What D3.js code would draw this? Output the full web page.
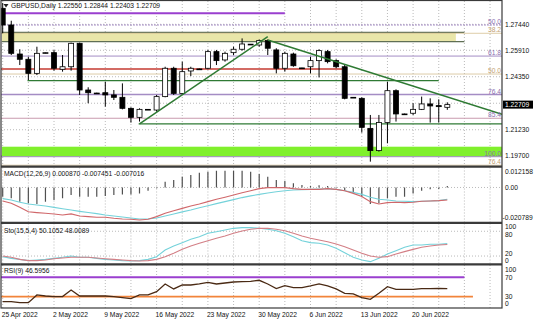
<!DOCTYPE html>
<html>
<head>
<meta charset="utf-8">
<script src="https://cdn.jsdelivr.net/npm/d3@7"></script>
<style>
  body { margin: 0; background: #fff; }
  svg { display: block; font-family: "Liberation Sans", Arial, sans-serif; }
</style>
</head>
<body>
<svg id="vis-svg" width="536" height="321"></svg>
<script>
// Daily bars, broker feed has a short Sunday bar each week
const dates = [
    "2022-04-25", "2022-04-26", "2022-04-27", "2022-04-28", "2022-04-29",
    "2022-05-01", "2022-05-02", "2022-05-03", "2022-05-04", "2022-05-05", "2022-05-06",
    "2022-05-08", "2022-05-09", "2022-05-10", "2022-05-11", "2022-05-12", "2022-05-13",
    "2022-05-15", "2022-05-16", "2022-05-17", "2022-05-18", "2022-05-19", "2022-05-20",
    "2022-05-22", "2022-05-23", "2022-05-24", "2022-05-25", "2022-05-26", "2022-05-27",
    "2022-05-29", "2022-05-30", "2022-05-31", "2022-06-01", "2022-06-02", "2022-06-03",
    "2022-06-05", "2022-06-06", "2022-06-07", "2022-06-08", "2022-06-09", "2022-06-10",
    "2022-06-12", "2022-06-13", "2022-06-14", "2022-06-15", "2022-06-16", "2022-06-17",
    "2022-06-19", "2022-06-20", "2022-06-21", "2022-06-22", "2022-06-23", "2022-06-24"
];
const open = [1.2838, 1.2740, 1.2569, 1.2538, 1.2455, 1.2575, 1.2577, 1.2479, 1.2494, 1.2632, 1.2357,
    1.2339, 1.2341, 1.2328, 1.2314, 1.2249, 1.2196, 1.2241, 1.2239, 1.2318, 1.2485, 1.2337, 1.2469,
    1.2481, 1.2485, 1.2583, 1.2534, 1.2577, 1.2597, 1.2626, 1.2622, 1.2648, 1.2593, 1.2485, 1.2569,
    1.2487, 1.2494, 1.2530, 1.2583, 1.2530, 1.2494, 1.2312, 1.2308, 1.2131, 1.2000, 1.2165, 1.2353,
    1.2216, 1.2220, 1.2243, 1.2275, 1.2265, 1.22550];
const high = [1.2870, 1.2765, 1.2597, 1.2553, 1.2612, 1.2578, 1.2593, 1.2563, 1.2636, 1.2636, 1.2373,
    1.2341, 1.2406, 1.2357, 1.2396, 1.2255, 1.2249, 1.2245, 1.2328, 1.2494, 1.2494, 1.2524, 1.2494,
    1.2483, 1.2593, 1.2593, 1.2583, 1.2612, 1.2661, 1.2628, 1.2655, 1.2655, 1.2603, 1.2583, 1.2577,
    1.2488, 1.2553, 1.2597, 1.2593, 1.2538, 1.2504, 1.2315, 1.2314, 1.2210, 1.2210, 1.2406, 1.2361,
    1.2218, 1.2279, 1.2318, 1.2308, 1.2302, 1.22844];
const low = [1.2691, 1.2563, 1.2504, 1.2416, 1.2445, 1.2572, 1.2471, 1.2465, 1.2471, 1.2328, 1.2279,
    1.2335, 1.2259, 1.2298, 1.2243, 1.2165, 1.2171, 1.2240, 1.2229, 1.2314, 1.2328, 1.2331, 1.2439,
    1.2478, 1.2479, 1.2504, 1.2524, 1.2563, 1.2589, 1.2624, 1.2612, 1.2563, 1.2455, 1.2465, 1.2494,
    1.2484, 1.2455, 1.2431, 1.2514, 1.2485, 1.2302, 1.2310, 1.2106, 1.1935, 1.1994, 1.2043, 1.2171,
    1.2214, 1.2210, 1.2239, 1.2165, 1.2165, 1.22403];
const close = [1.2740, 1.2573, 1.2538, 1.2455, 1.2573, 1.2577, 1.2485, 1.2494, 1.2632, 1.2357, 1.2341,
    1.2337, 1.2328, 1.2314, 1.2249, 1.2196, 1.2243, 1.2243, 1.2318, 1.2485, 1.2337, 1.2465, 1.2485,
    1.2479, 1.2583, 1.2530, 1.2573, 1.2597, 1.2628, 1.2627, 1.2648, 1.2603, 1.2485, 1.2573, 1.2500,
    1.2485, 1.2530, 1.2589, 1.2524, 1.2494, 1.2308, 1.2314, 1.2137, 1.2000, 1.2165, 1.2353, 1.2216,
    1.2216, 1.2243, 1.2275, 1.2263, 1.2259, 1.22709];

// MACD(12,26,9)
const macdHist = [-0.0055, -0.0064, -0.0084, -0.0094, -0.0098, -0.0084, -0.0074, -0.0064, -0.0045,
    -0.0055, -0.0055, -0.0055, -0.0050, -0.0045, -0.0041, -0.0041, -0.0035, -0.0019, -0.0005, 0.0034,
    0.0045, 0.0064, 0.0074, 0.0088, 0.0094, 0.0100, 0.0100, 0.0100, 0.0100, 0.0094, 0.0080, 0.0064,
    0.0045, 0.0039, 0.0025, 0.0015, 0.0009, 0.0013, 0.0009, -0.0005, -0.0019, -0.0031, -0.0055,
    -0.0098, -0.0094, -0.0064, -0.0055, -0.0055, -0.0035, -0.0019, -0.0011, -0.0009, 0.00087];
const macdRed = [-0.0080, -0.0094, -0.0118, -0.0144, -0.0149, -0.0153, -0.0157, -0.0163, -0.0157,
    -0.0169, -0.0173, -0.0177, -0.0177, -0.0183, -0.0187, -0.0189, -0.0193, -0.0189, -0.0173, -0.0153,
    -0.0138, -0.0124, -0.0110, -0.0098, -0.0084, -0.0070, -0.0058, -0.0045, -0.0031, -0.0019, -0.0007,
    -0.0001, -0.0001, -0.0001, -0.0007, -0.0011, -0.0011, -0.0011, -0.0007, -0.0011, -0.0019, -0.0035,
    -0.0054, -0.0084, -0.0098, -0.0090, -0.0088, -0.0090, -0.0088, -0.0082, -0.0080, -0.0078, -0.007451];
const macdCyan = [-0.0066, -0.0074, -0.0088, -0.0098, -0.0104, -0.0110, -0.0118, -0.0126, -0.0134,
    -0.0142, -0.0149, -0.0155, -0.0163, -0.0169, -0.0175, -0.0181, -0.0187, -0.0187, -0.0181, -0.0169,
    -0.0157, -0.0145, -0.0134, -0.0120, -0.0108, -0.0096, -0.0084, -0.0072, -0.0060, -0.0050, -0.0041,
    -0.0033, -0.0025, -0.0019, -0.0015, -0.0013, -0.0011, -0.0009, -0.0009, -0.0011, -0.0019, -0.0029,
    -0.0041, -0.0058, -0.0070, -0.0074, -0.0080, -0.0082, -0.0084, -0.0082, -0.0080, -0.0078, -0.007016];

// Stochastic(15,5,4)
const stoMain = [18.5, 14.4, 12.0, 8.8, 10.4, 12.0, 14.4, 16.9, 20.1, 16.9, 16.9, 14.4, 12.0, 10.4,
    8.8, 8.0, 8.8, 12.0, 18.5, 34.6, 44.3, 52.4, 60.5, 66.9, 75.0, 79.0, 83.1, 87.1, 88.7, 88.7, 87.1,
    84.7, 81.4, 75.0, 66.9, 57.2, 52.4, 50.8, 46.7, 38.7, 28.2, 16.9, 10.4, 6.4, 14.4, 24.9, 33.0,
    41.1, 46.7, 46.7, 48.4, 48.4, 50.1052];
const stoSignal = [20.1, 16.9, 12.0, 8.8, 8.8, 10.4, 13.6, 15.3, 16.9, 16.9, 16.9, 15.3, 13.6, 12.0,
    10.4, 8.8, 8.0, 8.8, 12.0, 18.5, 26.6, 36.2, 44.3, 50.8, 57.2, 62.9, 68.5, 75.0, 80.6, 84.7, 87.1,
    87.1, 84.7, 81.4, 75.0, 68.5, 62.9, 58.8, 54.8, 49.2, 42.7, 34.6, 26.6, 20.1, 16.9, 18.5, 24.9,
    30.7, 36.2, 41.1, 44.3, 46.7, 48.0089];

// RSI(9)
const rsi = [19.8, 19.8, 17.7, 17.7, 33.5, 31.4, 30.1, 30.1, 43.8, 31.4, 31.4, 31.4, 31.4, 30.1, 28.0,
    25.9, 33.5, 33.5, 40.4, 56.2, 45.9, 54.1, 54.1, 56.2, 59.6, 56.2, 58.2, 60.3, 61.0, 61.7, 63.8, 56.2,
    46.6, 52.7, 48.6, 48.6, 52.1, 56.2, 52.1, 45.9, 37.0, 35.6, 28.0, 24.6, 37.0, 50.7, 45.2, 45.2, 45.2,
    46.6, 46.6, 47.3, 46.5956];

// Axis ticks and labels
const priceTicks = [1.27440, 1.25910, 1.24350, 1.22790, 1.21230, 1.19700];
const macdTicks = [0.012158, 0, -0.020789];
const macdTickLabels = ["0.012158", "0.00", "-0.020789"];
const stoTicks = [100, 80, 20, 0];
const rsiTicks = [100, 70, 30, 0];
const timeLabelDates = ["2022-04-25", "2022-05-02", "2022-05-09", "2022-05-16", "2022-05-23",
    "2022-05-30", "2022-06-06", "2022-06-13", "2022-06-20"];
const timeLabels = ["25 Apr 2022", "2 May 2022", "9 May 2022", "16 May 2022", "23 May 2022",
    "30 May 2022", "6 Jun 2022", "13 Jun 2022", "20 Jun 2022"];

// Chart objects (price, and bar index anchors)
const hLines = [
    { name: "swingHigh", price: 1.2809, from: -1, to: 33 },
    { name: "resistance", price: 1.2481, from: -1, to: 39.7 },
    { name: "support1", price: 1.2412, from: 2.9, to: 51 },
    { name: "support2", price: 1.2157, from: 15.9, to: 59 }
];
const zones = [
    { name: "supply", top: 1.2697, bottom: 1.2642, from: -0.1, to: 53, edgeTo: 54 },
    { name: "demand", top: 1.2023, bottom: 1.1964, from: -0.1, to: 59, edgeTo: 59 }
];
const trendUp = [[16, 1.2157], [31, 1.2671]];
const trendDown = [[31, 1.2652], [58, 1.2220]];
const fibA = { high: 1.3516, low: 1.1964 };
const fibALevels = [50.0, 61.8, 76.4, 85.4, 100.0];
const fibB = { high: 1.3468, low: 1.1434 };
const fibBLevels = [38.2, 50.0, 76.4];
const rsiLines = [
    { name: "upper", value: 70, to: 54 },
    { name: "lower", value: 30, to: 55 }
];
const lastPrice = 1.22709;
const titleText = "GBPUSD,Daily 1.22550 1.22844 1.22403 1.22709";

// ---- layout and styles ----
const plotL = 1, plotR = 502;
const panels = {
    main: { top: 1, bottom: 166 },
    macd: { top: 167.5, bottom: 222 },
    sto: { top: 223.5, bottom: 263.5 },
    rsi: { top: 265, bottom: 308 }
};
const fontSize = 6.7;
// sto labels sit close together, so they get hand placed rows
const stoLabelY = { 100: 226.8, 80: 234.4, 20: 253.4, 0: 261 };
const hLineStyle = {
    swingHigh: ["#9a3fcf", 2],
    resistance: ["#c43a30", 1.6],
    support1: ["#2f7a34", 1.3],
    support2: ["#2f7a34", 1.3]
};
const fibAStyle = { color: "#a48cc4", text: "#8a6fb0" };
const fibBStyle = { color: "#d6c092", text: "#c2a072" };

const svg = d3.select("#vis-svg");

const x = d3.scaleLinear().domain([0, dates.length - 1]).range([2.7, 2.7 + (dates.length - 1) * 8.55]);
const yMain = d3.scaleLinear().domain([1.1970, 1.2744]).range([155.7, 24.3]);
const yMacd = d3.scaleLinear().domain([-0.020789, 0.012158]).range([222.5, 167]);
const ySto = d3.scaleLinear().domain([0, 100]).range([264.3, 223]);
const yRsi = d3.scaleLinear().domain([0, 100]).range([311.2, 262.75]);

svg.append("rect").attr("width", 536).attr("height", 321).attr("fill", "#fff");

// clip group per panel
function panel(name) {
    const p = panels[name];
    svg.append("clipPath").attr("id", "clip-" + name)
        .append("rect")
        .attr("x", plotL).attr("y", p.top)
        .attr("width", plotR - plotL).attr("height", p.bottom - p.top);
    return svg.append("g").attr("clip-path", "url(#clip-" + name + ")");
}

const gMain = panel("main"),
    gMacd = panel("macd"),
    gSto = panel("sto"),
    gRsi = panel("rsi");

// vertical dotted grid every 3 bars, all panels
const gridBars = d3.range(0, 60, 3);
[gMain, gMacd, gSto, gRsi].forEach((g, i) => {
    const p = Object.values(panels)[i];
    g.selectAll(".vgrid").data(gridBars).enter().append("line")
        .attr("x1", d => x(d)).attr("x2", d => x(d))
        .attr("y1", p.top).attr("y2", p.bottom)
        .attr("stroke", "#a8a8a8").attr("stroke-width", 0.8)
        .attr("stroke-dasharray", "1,2");
});

function hGrid(g, vals, scale) {
    g.selectAll(null).data(vals).enter().append("line")
        .attr("x1", plotL).attr("x2", plotR)
        .attr("y1", d => scale(d)).attr("y2", d => scale(d))
        .attr("stroke", "#a8a8a8").attr("stroke-width", 0.8)
        .attr("stroke-dasharray", "1,2");
}
hGrid(gMain, priceTicks, yMain);
hGrid(gMacd, [0], yMacd);
hGrid(gSto, [80, 20], ySto);

// zones
gMain.selectAll(".zone").data(zones).enter().append("rect")
    .attr("x", d => x(d.from))
    .attr("width", d => x(d.to) - x(d.from))
    .attr("y", d => yMain(d.top))
    .attr("height", d => yMain(d.bottom) - yMain(d.top))
    .attr("fill", d => d.name === "supply" ? "#e9e6a9" : "#80f02c");

const supply = zones[0];
gMain.selectAll(".zedge").data([supply.top, supply.bottom]).enter().append("line")
    .attr("x1", x(supply.from)).attr("x2", x(supply.edgeTo))
    .attr("y1", d => yMain(d)).attr("y2", d => yMain(d))
    .attr("stroke", "#5f6f55").attr("stroke-width", 1.3);

// fibonacci levels
function fibPrice(f, lvl) { return f.high - lvl / 100 * (f.high - f.low); }

gMain.selectAll(".fibA").data(fibALevels).enter().append("line")
    .attr("x1", plotL).attr("x2", plotR)
    .attr("y1", d => yMain(fibPrice(fibA, d))).attr("y2", d => yMain(fibPrice(fibA, d)))
    .attr("stroke", d => d === 85.4 ? "#c99aae" : fibAStyle.color)
    .attr("stroke-width", d => d === 76.4 ? 1.5 : 1)
    .attr("stroke-dasharray", d => d === 50 ? "2,1" : null);

gMain.selectAll(".fibB").data(fibBLevels).enter().append("line")
    .attr("x1", plotL).attr("x2", plotR)
    .attr("y1", d => yMain(fibPrice(fibB, d))).attr("y2", d => yMain(fibPrice(fibB, d)))
    .attr("stroke", fibBStyle.color).attr("stroke-width", 0.8);

// horizontal lines
gMain.selectAll(".hline").data(hLines).enter().append("line")
    .attr("x1", d => Math.max(plotL, x(d.from))).attr("x2", d => x(d.to))
    .attr("y1", d => yMain(d.price)).attr("y2", d => yMain(d.price))
    .attr("stroke", d => hLineStyle[d.name][0])
    .attr("stroke-width", d => hLineStyle[d.name][1]);

// candles: wicks then bodies
const bars = dates.map((d, i) => ({ i: i, o: open[i], h: high[i], l: low[i], c: close[i] }));

gMain.selectAll(".wick").data(bars).enter().append("line")
    .attr("x1", d => x(d.i)).attr("x2", d => x(d.i))
    .attr("y1", d => yMain(d.h)).attr("y2", d => yMain(d.l))
    .attr("stroke", "#000").attr("stroke-width", 1);

gMain.selectAll(".candle").data(bars).enter().append("rect")
    .attr("x", d => x(d.i) - 2.5)
    .attr("width", 5)
    .attr("y", d => yMain(Math.max(d.o, d.c)))
    .attr("height", d => Math.max(0.8, Math.abs(yMain(d.o) - yMain(d.c))))
    .attr("fill", d => d.c >= d.o ? "#fff" : "#000")
    .attr("stroke", "#000").attr("stroke-width", 0.8);

// trend lines
function trendPath(pts, ray) {
    const a = [x(pts[0][0]), yMain(pts[0][1])];
    let b = [x(pts[1][0]), yMain(pts[1][1])];
    if (ray) {
        const t = (plotR - a[0]) / (b[0] - a[0]);
        b = [plotR, a[1] + t * (b[1] - a[1])];
    }
    return d3.line()([a, b]);
}
gMain.append("path").attr("d", trendPath(trendUp, false))
    .attr("stroke", "#2e7a33").attr("stroke-width", 1.5).attr("fill", "none");
gMain.append("path").attr("d", trendPath(trendDown, true))
    .attr("stroke", "#2e7a33").attr("stroke-width", 1.5).attr("fill", "none");

// fib level texts
function fibText(levels, f, color) {
    svg.selectAll(null).data(levels).enter().append("text")
        .attr("x", 501)
        .attr("y", d => Math.min(panels.main.bottom - 1, yMain(fibPrice(f, d)) - 1))
        .attr("text-anchor", "end")
        .attr("font-size", fontSize)
        .attr("fill", color)
        .text(d => d.toFixed(1));
}
fibText(fibALevels, fibA, fibAStyle.text);
fibText(fibBLevels, fibB, fibBStyle.text);

// MACD
gMacd.selectAll(".hist").data(macdHist).enter().append("line")
    .attr("x1", (d, i) => x(i)).attr("x2", (d, i) => x(i))
    .attr("y1", yMacd(0)).attr("y2", d => yMacd(d))
    .attr("stroke", "#505050").attr("stroke-width", 1.2);

const macdLine = d3.line().x((d, i) => x(i)).y(d => yMacd(d));
gMacd.append("path").attr("d", macdLine(macdCyan))
    .attr("fill", "none").attr("stroke", "#74d2da").attr("stroke-width", 1.1);
gMacd.append("path").attr("d", macdLine(macdRed))
    .attr("fill", "none").attr("stroke", "#d0676a").attr("stroke-width", 1.1);

// Stochastic
const stoLine = d3.line().x((d, i) => x(i)).y(d => ySto(d));
gSto.append("path").attr("d", stoLine(stoMain))
    .attr("fill", "none").attr("stroke", "#74d2da").attr("stroke-width", 1.1);
gSto.append("path").attr("d", stoLine(stoSignal))
    .attr("fill", "none").attr("stroke", "#d37f86").attr("stroke-width", 1.1);

// RSI
gRsi.selectAll(".rsiLevel").data(rsiLines).enter().append("line")
    .attr("x1", plotL).attr("x2", d => x(d.to))
    .attr("y1", d => yRsi(d.value)).attr("y2", d => yRsi(d.value))
    .attr("stroke", d => d.name === "upper" ? "#9a3fcf" : "#f2843a")
    .attr("stroke-width", d => d.name === "upper" ? 2 : 1.6);

const rsiLine = d3.line().x((d, i) => x(i)).y(d => yRsi(d));
gRsi.append("path").attr("d", rsiLine(rsi))
    .attr("fill", "none").attr("stroke", "#4a2a14").attr("stroke-width", 1.3);

// frames and separators
svg.append("rect")
    .attr("x", plotL).attr("y", 0.5)
    .attr("width", plotR - plotL).attr("height", panels.rsi.bottom - 0.5)
    .attr("fill", "none").attr("stroke", "#3a3a3a").attr("stroke-width", 1.2);
svg.selectAll(".sep").data([166.7, 222.8, 264.3]).enter().append("line")
    .attr("x1", plotL).attr("x2", plotR)
    .attr("y1", d => d).attr("y2", d => d)
    .attr("stroke", "#3a3a3a").attr("stroke-width", 2.2);

// right axis labels
function axisLabels(vals, posY, fmt) {
    svg.selectAll(null).data(vals).enter().append("text")
        .attr("x", d => d < 0 ? 502.5 : 505)
        .attr("y", posY)
        .attr("dy", "0.35em")
        .attr("font-size", fontSize)
        .attr("fill", "#111")
        .text(fmt);
}
function clampTo(scale, p, up, down) {
    return d => Math.min(p.bottom - down, Math.max(p.top + up, scale(d)));
}
axisLabels(priceTicks.filter(d => Math.abs(yMain(d) - yMain(lastPrice)) > 6),
    clampTo(yMain, panels.main, 4.5, 4), d => d.toFixed(5));
axisLabels(macdTicks, clampTo(yMacd, panels.macd, 4.5, 4), d => macdTickLabels[macdTicks.indexOf(d)]);
axisLabels(stoTicks, d => stoLabelY[d], d => d);
axisLabels(rsiTicks, clampTo(yRsi, panels.rsi, 4.5, 4), d => d);

// current price tag
svg.append("rect")
    .attr("x", 503).attr("y", yMain(lastPrice) - 4)
    .attr("width", 30).attr("height", 8)
    .attr("fill", "#000");
svg.append("text")
    .attr("x", 505).attr("y", yMain(lastPrice))
    .attr("dy", "0.35em")
    .attr("font-size", fontSize)
    .attr("fill", "#fff")
    .text(lastPrice.toFixed(5));

// time labels
svg.selectAll(".tlabel").data(timeLabels).enter().append("text")
    .attr("x", (d, i) => x(dates.indexOf(timeLabelDates[i])) - 1)
    .attr("y", 316.5)
    .attr("font-size", fontSize)
    .attr("fill", "#111")
    .text(d => d);

// indicator titles
svg.append("path").attr("d", "M3.5,4 L8.5,4 L6,7.5 Z").attr("fill", "#222");
const titles = [
    [titleText, 11, 5.7],
    ["MACD(12,26,9) 0.000870 -0.007451 -0.007016", 4, 173.3],
    ["Sto(15,5,4) 50.1052 48.0089", 4, 230.3],
    ["RSI(9) 46.5956", 4, 270.7]
];
svg.selectAll(".title").data(titles).enter().append("text")
    .attr("x", d => d[1]).attr("y", d => d[2])
    .attr("dy", "0.35em")
    .attr("font-size", fontSize)
    .attr("fill", "#111")
    .text(d => d[0]);
</script>
</body>
</html>
